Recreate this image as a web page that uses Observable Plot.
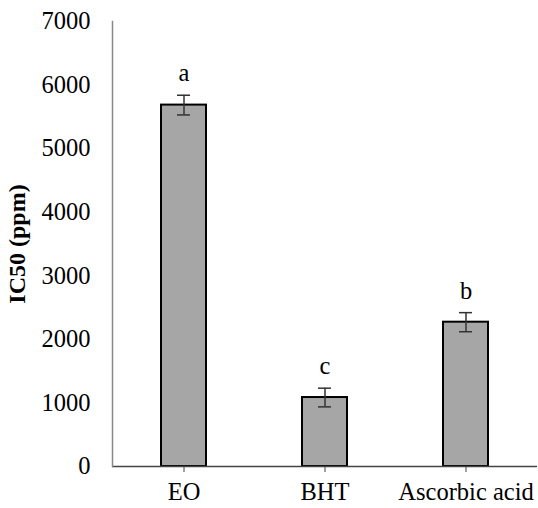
<!DOCTYPE html>
<html>
<head>
<meta charset="utf-8">
<script src="https://cdn.jsdelivr.net/npm/d3@7"></script>
<script src="https://cdn.jsdelivr.net/npm/@observablehq/plot@0.6"></script>
<style>
body { margin: 0; background: #fff; }
svg text { font-family: "Liberation Serif", "Times New Roman", serif !important; }
</style>
</head>
<body>
<div id="chart"></div>
<script>
const categories = ["EO", "BHT", "Ascorbic acid"];
const values = [5685, 1085, 2270];
const errors = [155, 147, 150];
const letters = ["a", "c", "b"];
const yTicks = [0, 1000, 2000, 3000, 4000, 5000, 6000, 7000];

const data = categories.map((c, i) => ({cat: c, v: values[i], e: errors[i], l: letters[i]}));
const serif = "'Liberation Serif', 'Times New Roman', serif";

const chart = Plot.plot({
  width: 538,
  height: 508,
  marginLeft: 112,
  marginRight: 1,
  marginTop: 21,
  marginBottom: 42,
  style: {fontFamily: serif, background: "#fff", color: "#000"},
  x: {domain: categories, padding: 0, label: null},
  y: {domain: [0, 7000], label: null},
  marks: [
    Plot.barY(data, {x: "cat", y: "v", fill: "#a6a6a6", stroke: "#000", strokeWidth: 2, insetLeft: 48, insetRight: 48}),
    Plot.ruleX(data, {x: "cat", y1: d => d.v - d.e, y2: d => d.v + d.e, stroke: "#333", strokeWidth: 1.5}),
    Plot.tickY(data, {x: "cat", y: d => d.v + d.e, stroke: "#333", strokeWidth: 1.5, insetLeft: 64, insetRight: 64}),
    Plot.tickY(data, {x: "cat", y: d => d.v - d.e, stroke: "#333", strokeWidth: 1.5, insetLeft: 64, insetRight: 64}),
    Plot.text(data, {x: "cat", y: d => d.v + d.e, text: "l", dy: -22, fontSize: 24.5, fontFamily: serif, fill: "#000"}),
    Plot.ruleY([0], {stroke: "#444", strokeWidth: 1.5}),
    Plot.axisY({ticks: yTicks, tickSize: 0, tickPadding: 22, fontSize: 24.5, fontFamily: serif, label: null, tickFormat: d => String(d)}),
    Plot.axisX({tickSize: 6, tickPadding: 10, fontSize: 24.5, fontFamily: serif, label: null, stroke: "#444"}),
    Plot.frame({anchor: "left", stroke: "#888", strokeWidth: 1.5})
  ]
});

d3.select(chart).append("text")
  .attr("transform", "translate(25,244) rotate(-90)")
  .attr("text-anchor", "middle")
  .attr("font-family", serif)
  .attr("font-weight", "bold")
  .attr("font-size", 24)
  .attr("fill", "#000")
  .text("IC50 (ppm)");

document.getElementById("chart").appendChild(chart);
</script>
</body>
</html>
